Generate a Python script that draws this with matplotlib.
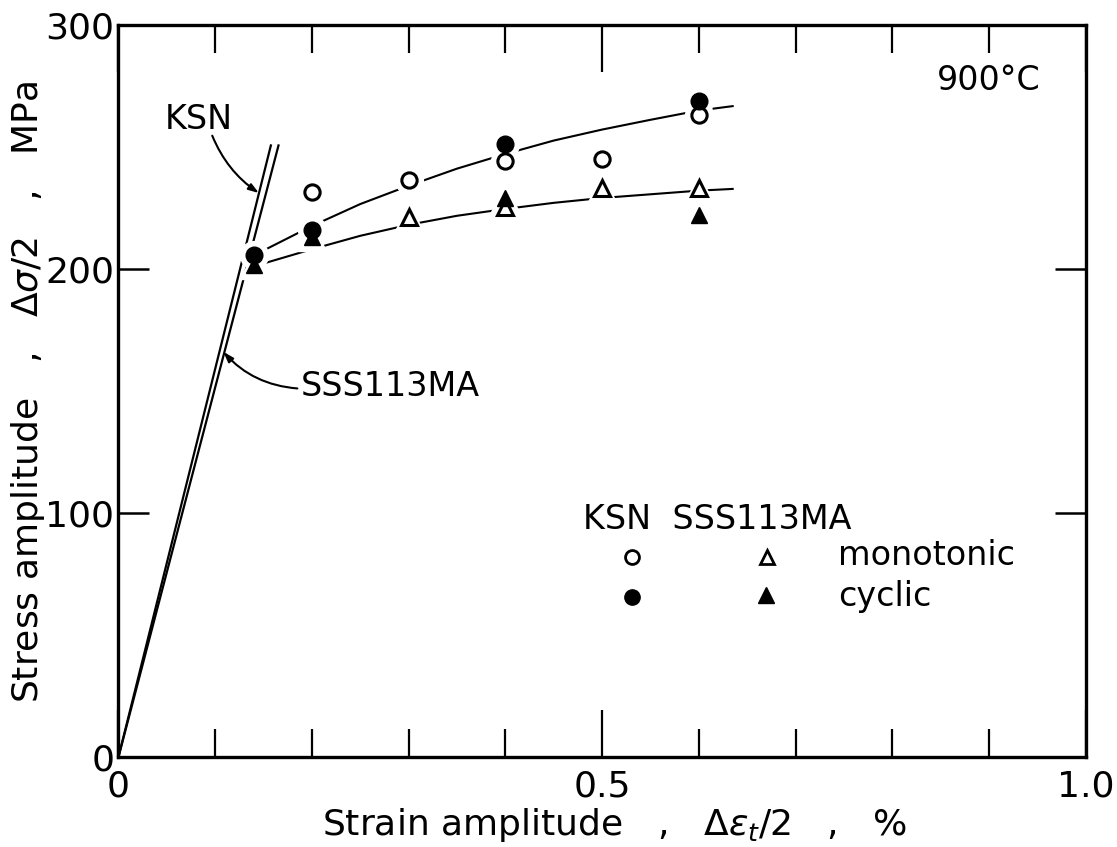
#! /usr/bin/env python3
# Stress amplitude vs strain amplitude at 900 C for KSN and SSS113MA,
# monotonic and cyclic curves with the elastic lines from the origin.

import matplotlib.pyplot as plt
import numpy as np

plt.rcParams['font.family'] = ['DejaVu Sans']
plt.rcParams['mathtext.fontset'] = 'dejavusans'

# measured points (strain amplitude %, stress amplitude MPa)
ksn_mono_x = [0.2, 0.3, 0.4, 0.5, 0.6]
ksn_mono_y = [231.5, 236.5, 244.0, 245.0, 263.0]
ksn_cyc_x = [0.14, 0.2, 0.4, 0.6]
ksn_cyc_y = [205.5, 216.0, 251.0, 268.5]
sss_mono_x = [0.3, 0.4, 0.5, 0.6]
sss_mono_y = [221.0, 225.5, 233.0, 233.0]
sss_cyc_x = [0.14, 0.2, 0.4, 0.6]
sss_cyc_y = [201.5, 213.0, 229.0, 222.0]

# hand drawn fit curves through the points
upper_x = [0.14, 0.2, 0.25, 0.3, 0.35, 0.4, 0.45, 0.5, 0.55, 0.6, 0.635]
upper_y = [205.5, 217.5, 226.5, 234.0, 241.0, 247.0, 252.5, 257.0, 261.0, 264.8, 266.6]
lower_x = [0.14, 0.2, 0.25, 0.3, 0.35, 0.4, 0.45, 0.5, 0.55, 0.6, 0.635]
lower_y = [201.0, 208.0, 213.5, 218.0, 221.7, 224.5, 227.0, 229.0, 230.5, 232.0, 232.7]

# elastic lines: origin to top end
ksn_elastic_x = [0.0, 0.1576]
ksn_elastic_y = [0.0, 250.5]
sss_elastic_x = [0.0, 0.1655]
sss_elastic_y = [0.0, 250.5]

fs = 24

fig = plt.figure(figsize=(11.17, 8.47), dpi=100)
ax = fig.add_axes([0.106, 0.106, 0.866, 0.865])

ax.plot(ksn_elastic_x, ksn_elastic_y, color='black', lw=1.6, zorder=2)
ax.plot(sss_elastic_x, sss_elastic_y, color='black', lw=1.6, zorder=2)
ax.plot(upper_x, upper_y, color='black', lw=1.5, zorder=2)
ax.plot(lower_x, lower_y, color='black', lw=1.5, zorder=2)

# white halos give the small breaks in the curves around each symbol
ms = 11
halo = dict(color='white', ls='none', ms=ms + 9, zorder=3)
for xs, ys, mk in [(ksn_mono_x, ksn_mono_y, 'o'), (ksn_cyc_x, ksn_cyc_y, 'o'),
                   (sss_mono_x, sss_mono_y, '^'), (sss_cyc_x, sss_cyc_y, '^')]:
    ax.plot(xs, ys, marker=mk, **halo)

ax.plot(ksn_mono_x, ksn_mono_y, 'o', ms=ms, mfc='white', mec='black', mew=2.2, zorder=4)
ax.plot(ksn_cyc_x, ksn_cyc_y, 'o', ms=ms + 1, mfc='black', mec='black', zorder=4)
ax.plot(sss_mono_x, sss_mono_y, '^', ms=ms + 1, mfc='white', mec='black', mew=2.2, zorder=4)
ax.plot(sss_cyc_x, sss_cyc_y, '^', ms=ms + 1, mfc='black', mec='black', zorder=5)

# labels for the elastic lines
ax.text(0.048, 261, 'KSN', fontsize=fs, ha='left', va='center')
ax.annotate('', xy=(0.1453, 231), xytext=(0.097, 254.5),
            arrowprops=dict(arrowstyle='-|>,head_length=0.6,head_width=0.2',
                            connectionstyle='arc3,rad=0.15', color='black', lw=1.5,
                            shrinkA=0, shrinkB=0))
ax.text(0.188, 152, 'SSS113MA', fontsize=fs, ha='left', va='center')
ax.annotate('', xy=(0.1085, 166), xytext=(0.185, 151),
            arrowprops=dict(arrowstyle='-|>,head_length=0.6,head_width=0.2',
                            connectionstyle='arc3,rad=-0.2', color='black', lw=1.5,
                            shrinkA=0, shrinkB=0))

ax.text(0.953, 277, '900°C', fontsize=fs, ha='right', va='center')

# symbol key
ax.text(0.48, 97.5, 'KSN  SSS113MA', fontsize=fs, ha='left', va='center')
ax.plot([0.531], [82], 'o', ms=ms - 1, mfc='white', mec='black', mew=2.0)
ax.plot([0.671], [82], '^', ms=ms - 1, mfc='white', mec='black', mew=2.0)
ax.text(0.744, 82.5, 'monotonic', fontsize=fs, ha='left', va='center')
ax.plot([0.531], [65.5], 'o', ms=ms, mfc='black', mec='black')
ax.plot([0.669], [66.5], '^', ms=ms, mfc='black', mec='black')
ax.text(0.744, 66, 'cyclic', fontsize=fs, ha='left', va='center')

ax.set_xlim(0, 1.0)
ax.set_ylim(0, 300)
ax.set_xticks([0, 0.5, 1.0])
ax.set_xticklabels(['0', '0.5', '1.0'])
ax.set_xticks(np.arange(0.1, 1.0, 0.1), minor=True)
ax.set_yticks([0, 100, 200, 300])
ax.tick_params(axis='x', which='major', direction='in', length=34, width=1.6,
               top=True, labelsize=26, pad=9)
ax.tick_params(axis='x', which='minor', direction='in', length=20, width=1.6, top=True)
ax.tick_params(axis='y', which='major', direction='in', length=22, width=1.8,
               right=True, labelsize=26, pad=3)
for s in ax.spines.values():
    s.set_linewidth(2.4)

ax.set_xlabel(r'Strain amplitude   ,   $\Delta\varepsilon_t/2$   ,   %', fontsize=26)
ax.set_ylabel(r'Stress amplitude   ,   $\Delta\sigma/2$   ,   MPa', fontsize=26)
ax.xaxis.set_label_coords(0.513, -0.066)
ax.yaxis.set_label_coords(-0.074, 0.499)

fig.savefig('out.png', dpi=100)
